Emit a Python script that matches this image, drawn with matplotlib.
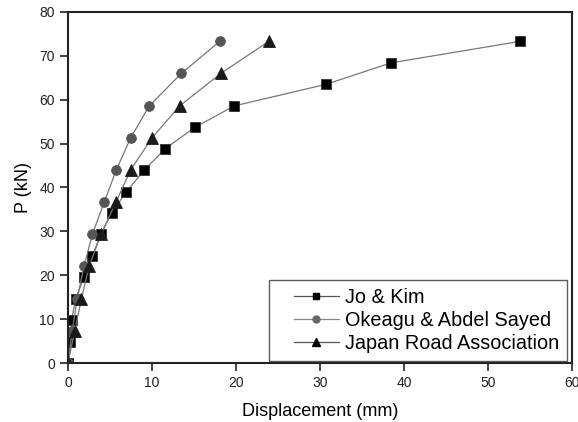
import matplotlib
matplotlib.use('Agg')
import matplotlib.pyplot as plt
from matplotlib.lines import Line2D
from matplotlib.legend_handler import HandlerLine2D

plt.rcParams['font.family'] = ['Liberation Sans', 'DejaVu Sans']

# load-displacement curves (displacement in mm, load in kN)
jo_disp = [0, 0.24, 0.44, 0.9, 1.9, 2.9, 3.9, 5.2, 6.95, 9.05, 11.55, 15.1, 19.8, 30.7, 38.45, 53.8]
jo_load = [0, 4.88, 9.76, 14.6, 19.5, 24.4, 29.3, 34.2, 39.0, 43.9, 48.8, 53.7, 58.6, 63.5, 68.4, 73.3]

ok_disp = [0, 0.5, 1.1, 1.9, 2.9, 4.3, 5.75, 7.46, 9.68, 13.5, 18.06]
ok_load = [0, 7.33, 14.6, 22.0, 29.3, 36.6, 44.0, 51.3, 58.6, 66.0, 73.3]

jra_disp = [0, 0.8, 1.6, 2.5, 3.93, 5.7, 7.46, 10.0, 13.3, 18.2, 23.9]
jra_load = [0, 7.33, 14.6, 22.0, 29.3, 36.6, 44.0, 51.3, 58.6, 66.0, 73.3]

labels = ['Jo & Kim', 'Okeagu & Abdel Sayed', 'Japan Road Association']

fig = plt.figure(figsize=(5.78, 4.22), dpi=100)
ax = fig.add_axes([0.1176, 0.1398, 0.872, 0.8318])

line_kw = dict(color='#777777', lw=0.9)
ax.plot(jo_disp, jo_load, marker='s', ms=6.5, mfc='black', mec='#333333', mew=0.6, **line_kw)
ax.plot(ok_disp, ok_load, marker='o', ms=7, mfc='#555555', mec='#555555', mew=0.6, **line_kw)
ax.plot(jra_disp, jra_load, marker='^', ms=8, mfc='#1a1a1a', mec='#1a1a1a', mew=0.6, **line_kw)

ax.set_xlim(0, 60)
ax.set_ylim(0, 80)
ax.set_xticks(range(0, 61, 10))
ax.set_yticks(range(0, 81, 10))
ax.tick_params(direction='out', length=6, width=1.2, labelsize=10, colors='#222222')
for s in ax.spines.values():
    s.set_linewidth(1.5)
    s.set_color('#222222')

ax.set_xlabel('Displacement (mm)', fontsize=13, labelpad=9)
ax.set_ylabel('P (kN)', fontsize=13, labelpad=5)

handles = [
    Line2D([], [], color='#555555', lw=0.9, marker='s', ms=5, mfc='black', mec='black'),
    Line2D([], [], color='#888888', lw=0.9, marker='o', ms=5, mfc='#666666', mec='#666666'),
    Line2D([], [], color='#555555', lw=0.9, marker='^', ms=6, mfc='black', mec='black'),
]
# xpad leaves blank room between the frame and the short handle lines
leg = ax.legend(handles, labels, loc='lower right', bbox_to_anchor=(0.99, 0.006),
                fontsize=14.3, frameon=True, fancybox=False, handlelength=3.1,
                handletextpad=0.3, borderpad=0.4, labelspacing=0.2, borderaxespad=0,
                handler_map={Line2D: HandlerLine2D(xpad=0.82)})
leg.get_frame().set_edgecolor('#333333')
leg.get_frame().set_linewidth(1.0)

fig.savefig('out.png', dpi=100)
